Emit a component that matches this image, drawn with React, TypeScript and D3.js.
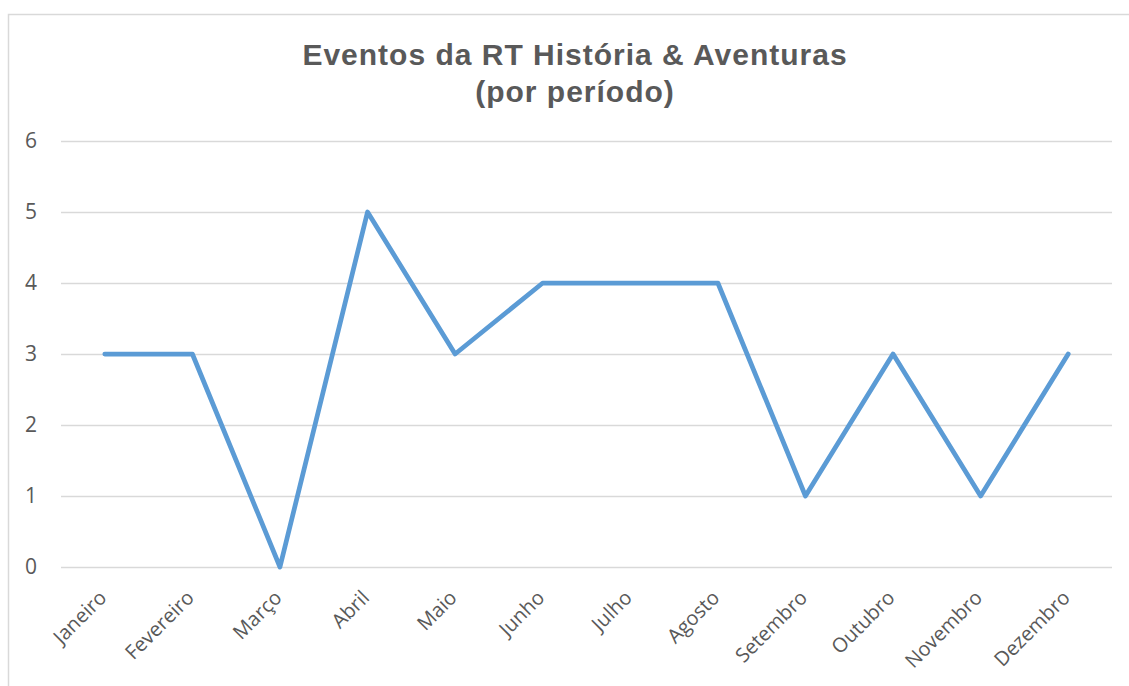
import { useEffect, useRef } from 'react';
import * as d3 from 'd3';

const months = ['Janeiro', 'Fevereiro', 'Março', 'Abril', 'Maio', 'Junho', 'Julho', 'Agosto', 'Setembro', 'Outubro', 'Novembro', 'Dezembro'];
const events = [3, 3, 0, 5, 3, 4, 4, 4, 1, 3, 1, 3];
const yTicks = [0, 1, 2, 3, 4, 5, 6];
const titleLines = ['Eventos da RT História & Aventuras', '(por período)'];

export default function App() {
	const svgRef = useRef<SVGSVGElement>(null);
	const width = 1129;
	const height = 686;
	const plotLeft = 61;
	const plotRight = 1112;
	const plotTop = 141;
	const plotBottom = 567;
	const titleX = 575;

	useEffect(() => {
		const svg = d3.select(svgRef.current);
		svg.selectAll('*').remove();

		// chart frame (runs off the page on the right and bottom)
		svg.append('rect')
			.attr('x', 8.5)
			.attr('y', 14.5)
			.attr('width', 1200)
			.attr('height', 800)
			.attr('fill', '#fff')
			.attr('stroke', '#d9d9d9')
			.attr('stroke-width', 1.5);

		const xScale = d3.scaleBand()
			.domain(months)
			.range([plotLeft, plotRight]);

		const yScale = d3.scaleLinear()
			.domain([0, 6])
			.range([plotBottom, plotTop]);

		// title
		svg.append('text')
			.attr('x', titleX)
			.attr('y', 65)
			.attr('text-anchor', 'middle')
			.style('font-family', 'Arial, "Liberation Sans", sans-serif')
			.style('font-weight', 'bold')
			.style('font-size', '30px')
			.style('letter-spacing', '1px')
			.attr('fill', '#595959')
			.selectAll('tspan')
			.data(titleLines)
			.join('tspan')
			.attr('x', titleX)
			.attr('dy', (d, i) => (i === 0 ? 0 : 37))
			.text(d => d);

		// grid + y labels
		const yAxis = d3.axisLeft(yScale)
			.tickValues(yTicks)
			.tickSize(-(plotRight - plotLeft))
			.tickPadding(24)
			.tickFormat(d3.format('d'));

		const yg = svg.append('g')
			.attr('transform', `translate(${plotLeft},0)`)
			.call(yAxis);
		yg.select('.domain').remove();
		yg.selectAll('.tick line')
			.attr('stroke', '#d9d9d9')
			.attr('stroke-width', 1.5);
		yg.selectAll('.tick text')
			.attr('fill', '#595959')
			.style('font-family', '"Open Sans", sans-serif')
			.style('font-size', '21px');

		// x labels
		const xAxis = d3.axisBottom(xScale).tickSize(0).tickPadding(0);
		const xg = svg.append('g')
			.attr('transform', `translate(0,${plotBottom})`)
			.call(xAxis);
		xg.select('.domain').remove();
		xg.selectAll('.tick text')
			.attr('fill', '#595959')
			.style('font-family', '"Open Sans", sans-serif')
			.style('font-size', '20px')
			.attr('text-anchor', 'end')
			.attr('dy', '0')
			.attr('transform', 'translate(3,32) rotate(-45)');

		const line = d3.line<number>()
			.x((v, i) => (xScale(months[i]) ?? 0) + xScale.bandwidth() / 2)
			.y(v => yScale(v));

		svg.append('path')
			.datum(events)
			.attr('d', line)
			.attr('fill', 'none')
			.attr('stroke', '#5b9bd5')
			.attr('stroke-width', 4.75)
			.attr('stroke-linejoin', 'round')
			.attr('stroke-linecap', 'round');
	}, []);

	return (
		<svg
			ref={svgRef}
			width={width}
			height={height}
			style={{ position: 'absolute', left: 0, top: 0, display: 'block', background: '#fff' }}
		/>
	);
}
